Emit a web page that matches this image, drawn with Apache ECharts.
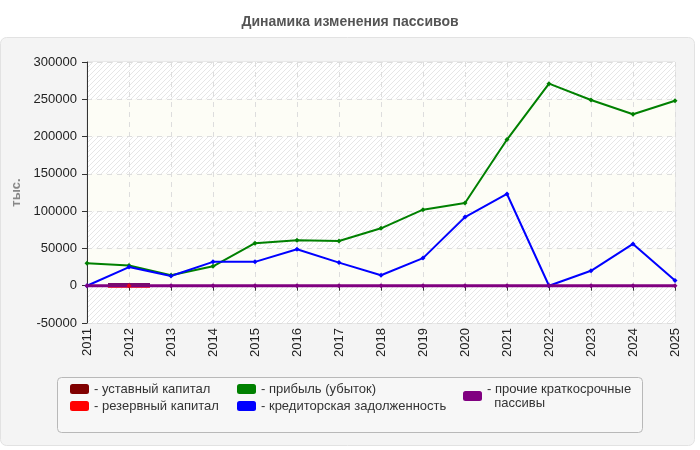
<!DOCTYPE html>
<html>
<head>
<meta charset="utf-8">
<script src="https://cdn.jsdelivr.net/npm/echarts@6/dist/echarts.min.js"></script>
<style>
  html, body { margin: 0; padding: 0; background: #fff; }
  #chart { width: 700px; height: 450px; }
</style>
</head>
<body>
<div id="chart"></div>
<script>
let chart = echarts.init(document.getElementById('chart'));

// данные (тыс.)
let years = ['2011','2012','2013','2014','2015','2016','2017','2018','2019','2020','2021','2022','2023','2024','2025'];
let ustavnyi = [null,1500,null,null,null,null,null,null,null,null,null,null,null,null,null];
let rezervnyi = [null,0,null,null,null,null,null,null,null,null,null,null,null,null,null];
let pribyl = [30000,27000,14000,26000,57000,61000,60000,77000,102000,111000,196000,271000,249000,230000,248000];
let kreditor = [0,25000,13000,32000,32000,49000,31000,14000,37000,92000,123000,0,20000,56000,7000];
let prochie = [0,0,0,0,0,0,0,0,0,0,0,0,0,0,0];

// штриховка фона
function hatch() {
    let c = document.createElement('canvas');
    c.width = 5; c.height = 5;
    let ctx = c.getContext('2d');
    ctx.fillStyle = '#ffffff';
    ctx.fillRect(0, 0, 5, 5);
    ctx.strokeStyle = '#e6e6e6';
    ctx.lineWidth = 1;
    ctx.beginPath();
    ctx.moveTo(0, 5); ctx.lineTo(5, 0);
    ctx.moveTo(-2.5, 2.5); ctx.lineTo(2.5, -2.5);
    ctx.moveTo(2.5, 7.5); ctx.lineTo(7.5, 2.5);
    ctx.stroke();
    return c;
}
let hatchPattern = { image: hatch(), repeat: 'repeat' };

function lineSeries(name, data, color, width) {
    return {
        name: name,
        type: 'line',
        data: data,
        color: color,
        symbol: 'diamond',
        symbolSize: 5,
        showAllSymbol: true,
        lineStyle: { width: width, color: color },
        itemStyle: { color: color }
    };
}

let font = 'Liberation Sans, Arial';
let legendText = { color: '#333', fontSize: 13, fontFamily: font, lineHeight: 14 };
function legendFmt(name) {
    if (name === 'прочие краткосрочные пассивы') return '- прочие краткосрочные\n  пассивы';
    return '- ' + name;
}

let option = {
    animation: false,
    textStyle: { fontFamily: font },
    title: {
        text: 'Динамика изменения пассивов',
        left: 'center',
        top: 10,
        textStyle: { fontSize: 14, fontWeight: 'bold', color: '#555', fontFamily: font }
    },
    graphic: [
        {
            type: 'rect', z: -10,
            shape: { x: 0.5, y: 37.5, width: 694, height: 408, r: 6 },
            style: { fill: '#f4f4f4', stroke: '#e2e2e2', lineWidth: 1 }
        },
        {
            type: 'rect', z: -5,
            shape: { x: 57.5, y: 377.5, width: 585, height: 55, r: 4 },
            style: { fill: '#f7f7f7', stroke: '#b8b8b8', lineWidth: 1 }
        }
    ],
    grid: { left: 87, right: 25, top: 62, bottom: 127, show: true, borderColor: '#dddddd', borderWidth: 1 },
    legend: [
        {
            data: [{ name: 'уставный капитал', itemStyle: { color: '#800000' } }, 'резервный капитал'],
            orient: 'vertical', left: 65, top: 377, itemWidth: 19, itemHeight: 10, itemGap: 3,
            icon: 'roundRect', formatter: legendFmt, textStyle: legendText, selectedMode: false
        },
        {
            data: ['прибыль (убыток)', 'кредиторская задолженность'],
            orient: 'vertical', left: 232, top: 377, itemWidth: 19, itemHeight: 10, itemGap: 3,
            icon: 'roundRect', formatter: legendFmt, textStyle: legendText, selectedMode: false
        },
        {
            data: ['прочие краткосрочные пассивы'],
            orient: 'vertical', left: 458, top: 377, itemWidth: 19, itemHeight: 10, itemGap: 3,
            icon: 'roundRect', formatter: legendFmt, textStyle: legendText, selectedMode: false
        }
    ],
    xAxis: {
        type: 'category',
        data: years,
        boundaryGap: false,
        axisLine: { lineStyle: { color: '#333' } },
        axisTick: { lineStyle: { color: '#333' } },
        axisLabel: { rotate: 90, color: '#222', fontSize: 13, margin: 5 },
        splitLine: { show: true, lineStyle: { color: '#dddddd', type: [5, 5] } }
    },
    yAxis: {
        type: 'value',
        min: -50000,
        max: 300000,
        interval: 50000,
        name: 'тыс.',
        nameLocation: 'middle',
        nameRotate: 90,
        nameGap: 62,
        nameTextStyle: { color: '#888', fontWeight: 'bold', fontSize: 13 },
        axisLine: { show: true, lineStyle: { color: '#333' } },
        axisTick: { show: true, lineStyle: { color: '#333' } },
        axisLabel: { color: '#222', fontSize: 13, margin: 10, formatter: function (v) { return String(v); } },
        splitLine: { show: true, lineStyle: { color: '#dddddd', type: [5, 5] } },
        splitArea: { show: true, areaStyle: { color: [hatchPattern, '#fdfdf6'] } }
    },
    series: [
        lineSeries('прибыль (убыток)', pribyl, '#008000', 2),
        lineSeries('кредиторская задолженность', kreditor, '#0000ff', 2),
        {
            name: 'резервный капитал', type: 'line', data: rezervnyi, color: '#ff0000',
            symbol: 'rect', symbolSize: [42, 2], symbolOffset: [0, 1], itemStyle: { color: '#ff0000' }, z: 1
        },
        lineSeries('прочие краткосрочные пассивы', prochie, '#800080', 3),
        {
            name: 'уставный капитал', type: 'line', data: ustavnyi, color: '#800000',
            symbol: 'rect', symbolSize: [42, 3], itemStyle: { color: '#7a0a6e' }, z: 4
        },
        {
            name: 'резервный капитал', type: 'scatter', data: rezervnyi,
            symbol: 'diamond', symbolSize: 5, itemStyle: { color: '#ff0000' }, z: 5
        }
    ]
};
chart.setOption(option);
window.addEventListener('resize', function () { chart.resize(); });
</script>
</body>
</html>
